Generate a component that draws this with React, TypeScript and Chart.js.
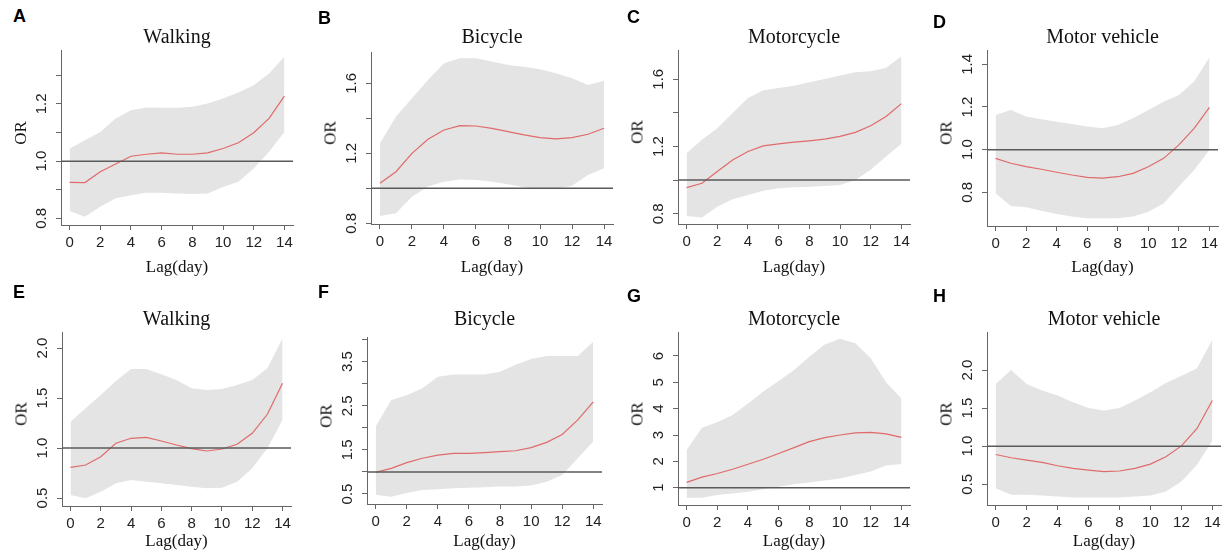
import React, { useEffect, useRef } from "react";
import { Chart, registerables } from "chart.js";
Chart.register(...registerables);

// ---------- data ----------
const LAGS = [0, 1, 2, 3, 4, 5, 6, 7, 8, 9, 10, 11, 12, 13, 14];
const X_TICKS = [0, 2, 4, 6, 8, 10, 12, 14];
const X_MIN = -0.56;
const X_MAX = 14.56;
const REF_OR = 1;

const TITLES = ["Walking", "Bicycle", "Motorcycle", "Motor vehicle"];
const LETTERS = ["A", "B", "C", "D", "E", "F", "G", "H"];

const A_EST = [0.926, 0.925, 0.963, 0.99, 1.017, 1.024, 1.029, 1.024, 1.024, 1.029, 1.044, 1.064, 1.099, 1.149, 1.227];
const A_LO = [0.826, 0.806, 0.841, 0.87, 0.881, 0.89, 0.89, 0.887, 0.885, 0.887, 0.91, 0.928, 0.974, 1.033, 1.102];
const A_HI = [1.044, 1.073, 1.102, 1.149, 1.178, 1.187, 1.186, 1.186, 1.19, 1.201, 1.219, 1.24, 1.265, 1.306, 1.364];

const B_EST = [1.029, 1.095, 1.2, 1.28, 1.333, 1.358, 1.356, 1.343, 1.324, 1.305, 1.29, 1.282, 1.29, 1.309, 1.343];
const B_LO = [0.842, 0.857, 0.952, 1.01, 1.038, 1.051, 1.048, 1.038, 1.023, 1.006, 0.996, 0.996, 1.015, 1.076, 1.114];
const B_HI = [1.257, 1.41, 1.514, 1.619, 1.714, 1.743, 1.743, 1.724, 1.705, 1.695, 1.68, 1.657, 1.629, 1.59, 1.615];

const C_EST = [0.955, 0.981, 1.051, 1.12, 1.17, 1.204, 1.216, 1.226, 1.234, 1.244, 1.26, 1.284, 1.323, 1.379, 1.455];
const C_LO = [0.786, 0.778, 0.842, 0.886, 0.911, 0.937, 0.951, 0.957, 0.961, 0.965, 0.971, 1.001, 1.061, 1.14, 1.216];
const C_HI = [1.16, 1.24, 1.309, 1.399, 1.489, 1.534, 1.548, 1.562, 1.582, 1.602, 1.622, 1.642, 1.648, 1.668, 1.737];

const D_EST = [0.959, 0.936, 0.92, 0.908, 0.894, 0.881, 0.87, 0.866, 0.873, 0.889, 0.92, 0.959, 1.022, 1.1, 1.198];
const D_LO = [0.795, 0.736, 0.73, 0.714, 0.698, 0.686, 0.678, 0.678, 0.678, 0.686, 0.709, 0.748, 0.827, 0.905, 0.998];
const D_HI = [1.162, 1.186, 1.155, 1.142, 1.131, 1.12, 1.108, 1.1, 1.116, 1.147, 1.186, 1.225, 1.256, 1.319, 1.433];

const E_EST = [0.807, 0.83, 0.913, 1.047, 1.097, 1.107, 1.07, 1.03, 0.993, 0.97, 0.99, 1.037, 1.147, 1.337, 1.647];
const E_LO = [0.53, 0.497, 0.563, 0.647, 0.68, 0.663, 0.647, 0.63, 0.613, 0.597, 0.603, 0.663, 0.797, 0.997, 1.28];
const E_HI = [1.263, 1.397, 1.53, 1.67, 1.79, 1.79, 1.737, 1.68, 1.597, 1.58, 1.59, 1.63, 1.68, 1.797, 2.097];

const F_EST = [0.99, 1.08, 1.21, 1.31, 1.38, 1.42, 1.42, 1.44, 1.46, 1.48, 1.55, 1.67, 1.85, 2.18, 2.59];
const F_LO = [0.48, 0.44, 0.52, 0.59, 0.61, 0.63, 0.64, 0.65, 0.67, 0.67, 0.69, 0.78, 0.93, 1.31, 1.69];
const F_HI = [2.03, 2.63, 2.74, 2.9, 3.16, 3.21, 3.21, 3.21, 3.27, 3.43, 3.56, 3.63, 3.63, 3.63, 3.95];

const G_EST = [1.2, 1.4, 1.54, 1.7, 1.89, 2.08, 2.3, 2.52, 2.75, 2.9, 3.0, 3.08, 3.1, 3.04, 2.91];
const G_LO = [0.62, 0.62, 0.72, 0.78, 0.85, 0.94, 1.04, 1.13, 1.2, 1.27, 1.35, 1.48, 1.61, 1.84, 1.9];
const G_HI = [2.43, 3.28, 3.48, 3.76, 4.2, 4.65, 5.05, 5.47, 5.97, 6.44, 6.65, 6.48, 5.91, 5.0, 4.39];

const H_EST = [0.891, 0.848, 0.817, 0.787, 0.743, 0.709, 0.687, 0.665, 0.674, 0.709, 0.765, 0.861, 1.004, 1.23, 1.6];
const H_LO = [0.448, 0.361, 0.361, 0.352, 0.339, 0.326, 0.326, 0.326, 0.326, 0.339, 0.352, 0.404, 0.535, 0.752, 1.07];
const H_HI = [1.817, 2.0, 1.817, 1.73, 1.665, 1.578, 1.5, 1.47, 1.5, 1.6, 1.709, 1.83, 1.926, 2.02, 2.396];

const A_YTICKS = [0.8, 0.9, 1.0, 1.1, 1.2, 1.3];
const A_YLABELS = [0.8, 1.0, 1.2];
const B_YTICKS = [0.8, 1.0, 1.2, 1.4, 1.6];
const B_YLABELS = [0.8, 1.2, 1.6];
const C_YTICKS = [0.8, 1.0, 1.2, 1.4, 1.6];
const C_YLABELS = [0.8, 1.2, 1.6];
const D_YTICKS = [0.8, 1.0, 1.2, 1.4];
const D_YLABELS = [0.8, 1.0, 1.2, 1.4];
const E_YTICKS = [0.5, 1.0, 1.5, 2.0];
const E_YLABELS = [0.5, 1.0, 1.5, 2.0];
const F_YTICKS = [0.5, 1.0, 1.5, 2.0, 2.5, 3.0, 3.5, 4.0];
const F_YLABELS = [0.5, 1.5, 2.5, 3.5];
const G_YTICKS = [1, 2, 3, 4, 5, 6];
const G_YLABELS = [1, 2, 3, 4, 5, 6];
const H_YTICKS = [0.5, 1.0, 1.5, 2.0];
const H_YLABELS = [0.5, 1.0, 1.5, 2.0];

// ---------- layout / style ----------
type Panel = {
  est: number[]; lo: number[]; hi: number[];
  yMin: number; yMax: number; yTicks: number[]; yLabels: number[]; dec: number;
  L: number; T: number; R: number; B: number; row: number; col: number;
  letterX: number; letterBase: number;
};

const PANELS: Panel[] = [
  { est: A_EST, lo: A_LO, hi: A_HI, yMin: 0.777, yMax: 1.388, yTicks: A_YTICKS, yLabels: A_YLABELS, dec: 1, L: 61, T: 50, R: 293, B: 225, row: 0, col: 0, letterX: 13, letterBase: 22 },
  { est: B_EST, lo: B_LO, hi: B_HI, yMin: 0.796, yMax: 1.779, yTicks: B_YTICKS, yLabels: B_YLABELS, dec: 1, L: 371, T: 52, R: 613, B: 224, row: 0, col: 1, letterX: 318, letterBase: 24 },
  { est: C_EST, lo: C_LO, hi: C_HI, yMin: 0.739, yMax: 1.774, yTicks: C_YTICKS, yLabels: C_YLABELS, dec: 1, L: 678, T: 50, R: 910, B: 224, row: 0, col: 2, letterX: 627, letterBase: 23 },
  { est: D_EST, lo: D_LO, hi: D_HI, yMin: 0.642, yMax: 1.467, yTicks: D_YTICKS, yLabels: D_YLABELS, dec: 1, L: 987, T: 50, R: 1218, B: 226, row: 0, col: 3, letterX: 933, letterBase: 28 },
  { est: E_EST, lo: E_LO, hi: E_HI, yMin: 0.42, yMax: 2.16, yTicks: E_YTICKS, yLabels: E_YLABELS, dec: 1, L: 62, T: 332, R: 291, B: 506, row: 1, col: 0, letterX: 13, letterBase: 298 },
  { est: F_EST, lo: F_LO, hi: F_HI, yMin: 0.273, yMax: 4.06, yTicks: F_YTICKS, yLabels: F_YLABELS, dec: 1, L: 367, T: 337, R: 602, B: 504, row: 1, col: 1, letterX: 318, letterBase: 298 },
  { est: G_EST, lo: G_LO, hi: G_HI, yMin: 0.343, yMax: 6.91, yTicks: G_YTICKS, yLabels: G_YLABELS, dec: 0, L: 678, T: 332, R: 910, B: 505, row: 1, col: 2, letterX: 627, letterBase: 302 },
  { est: H_EST, lo: H_LO, hi: H_HI, yMin: 0.228, yMax: 2.499, yTicks: H_YTICKS, yLabels: H_YLABELS, dec: 1, L: 987, T: 332, R: 1221, B: 505, row: 1, col: 3, letterX: 933, letterBase: 302 },
];

const YAXIS_W = 62;
const PAD_T = 4;
const PAD_R = 6;
const XAXIS_H = 34;

const ROW_TITLE_BASE = [43, 324.5];
const ROW_XLAB_BASE = [272, 546];

const BAND = "#e4e4e4";
const RED = "#e06a6a";
const REF_COLOR = "#5a5a5a";
const AXIS_COLOR = "#666";
const SANS = '"Liberation Sans", Arial, sans-serif';
const SERIF = '"Liberation Serif", "Times New Roman", serif';

function makeYLabelPlugin(p: Panel) {
  return {
    id: "yRotLabels",
    afterDraw(chart: any) {
      const { ctx, chartArea } = chart;
      const ys = chart.scales.y;
      ctx.save();
      ctx.font = `15px ${SANS}`;
      ctx.fillStyle = "#222";
      ctx.textAlign = "center";
      ctx.textBaseline = "middle";
      for (const v of p.yLabels) {
        const py = ys.getPixelForValue(v);
        ctx.save();
        ctx.translate(chartArea.left - 19.5, py);
        ctx.rotate(-Math.PI / 2);
        ctx.fillText(v.toFixed(p.dec), 0, 0);
        ctx.restore();
      }
      ctx.restore();
    },
  };
}

function PanelChart({ p }: { p: Panel }) {
  const ref = useRef<HTMLCanvasElement | null>(null);
  const cw = p.R - p.L + YAXIS_W + PAD_R;
  const ch = p.B - p.T + PAD_T + XAXIS_H;
  useEffect(() => {
    if (!ref.current) return;
    const chart = new Chart(ref.current, {
      type: "line",
      data: {
        datasets: [
          {
            data: LAGS.map((x, i) => ({ x, y: p.hi[i] })),
            fill: "+1",
            backgroundColor: BAND,
            borderColor: "rgba(0,0,0,0)",
            borderWidth: 0,
            pointRadius: 0,
            tension: 0,
            order: 3,
          },
          {
            data: LAGS.map((x, i) => ({ x, y: p.lo[i] })),
            fill: false,
            borderColor: "rgba(0,0,0,0)",
            borderWidth: 0,
            pointRadius: 0,
            tension: 0,
            order: 2,
          },
          {
            data: LAGS.map((x, i) => ({ x, y: p.est[i] })),
            fill: false,
            borderColor: RED,
            borderWidth: 1.2,
            pointRadius: 0,
            tension: 0,
            order: 1,
          },
          {
            data: [
              { x: X_MIN, y: REF_OR },
              { x: X_MAX, y: REF_OR },
            ],
            fill: false,
            borderColor: REF_COLOR,
            borderWidth: 1.5,
            pointRadius: 0,
            order: 0,
          },
        ],
      },
      options: {
        animation: false,
        responsive: false,
        devicePixelRatio: 1,
        events: [],
        layout: { padding: { left: 0, top: PAD_T, right: PAD_R, bottom: 0 } },
        plugins: {
          legend: { display: false },
          tooltip: { enabled: false },
          title: { display: false },
        },
        scales: {
          x: {
            type: "linear",
            min: X_MIN,
            max: X_MAX,
            afterBuildTicks: (s: any) => {
              s.ticks = X_TICKS.map((v) => ({ value: v }));
            },
            afterFit: (s: any) => {
              s.height = XAXIS_H;
              s.paddingLeft = 0;
              s.paddingRight = 0;
            },
            grid: { drawOnChartArea: false, drawTicks: true, tickLength: 5, color: AXIS_COLOR, lineWidth: 1 },
            border: { display: true, color: AXIS_COLOR, width: 1 },
            ticks: {
              autoSkip: false,
              maxRotation: 0,
              minRotation: 0,
              padding: 4,
              color: "#222",
              font: { family: SANS, size: 15 },
              callback: (v: any) => String(v),
            },
          },
          y: {
            type: "linear",
            min: p.yMin,
            max: p.yMax,
            afterBuildTicks: (s: any) => {
              s.ticks = p.yTicks.map((v) => ({ value: v }));
            },
            afterFit: (s: any) => {
              s.width = YAXIS_W;
              s.paddingTop = 0;
              s.paddingBottom = 0;
            },
            grid: { drawOnChartArea: false, drawTicks: true, tickLength: 5, color: AXIS_COLOR, lineWidth: 1 },
            border: { display: true, color: AXIS_COLOR, width: 1 },
            ticks: { display: false },
          },
        },
      },
      plugins: [makeYLabelPlugin(p)],
    } as any);
    return () => chart.destroy();
  }, [p]);
  return (
    <canvas
      ref={ref}
      width={cw}
      height={ch}
      style={{
        position: "absolute",
        left: p.L - YAXIS_W,
        top: p.T - PAD_T,
        width: cw,
        height: ch,
      }}
    />
  );
}

function PanelTexts({ p, idx }: { p: Panel; idx: number }) {
  const cx = (p.L + p.R) / 2;
  const cy = (p.T + p.B) / 2 - 5;
  const titleFs = 20;
  const labFs = 17;
  const letFs = 18;
  return (
    <>
      <div
        style={{
          position: "absolute",
          left: p.letterX,
          top: p.letterBase - 0.8465 * letFs,
          font: `bold ${letFs}px ${SANS}`,
          lineHeight: `${letFs}px`,
          color: "#000",
        }}
      >
        {LETTERS[idx]}
      </div>
      <div
        style={{
          position: "absolute",
          left: cx,
          top: ROW_TITLE_BASE[p.row] - 0.8375 * titleFs,
          transform: "translateX(-50%)",
          whiteSpace: "nowrap",
          font: `${titleFs}px ${SERIF}`,
          lineHeight: `${titleFs}px`,
          color: "#111",
        }}
      >
        {TITLES[p.col]}
      </div>
      <div
        style={{
          position: "absolute",
          left: cx,
          top: ROW_XLAB_BASE[p.row] - 0.8375 * labFs,
          transform: "translateX(-50%)",
          whiteSpace: "nowrap",
          font: `${labFs}px ${SERIF}`,
          lineHeight: `${labFs}px`,
          color: "#111",
        }}
      >
        Lag(day)
      </div>
      <div
        style={{
          position: "absolute",
          left: p.L - 41,
          top: cy,
          transform: "translate(-50%, -50%) rotate(-90deg)",
          whiteSpace: "nowrap",
          font: `${labFs}px ${SERIF}`,
          lineHeight: `${labFs}px`,
          color: "#111",
        }}
      >
        OR
      </div>
    </>
  );
}

export default function App() {
  return (
    <div
      style={{
        position: "absolute",
        left: 0,
        top: 0,
        width: 1223,
        height: 554,
        overflow: "hidden",
        background: "#fff",
      }}
    >
      {PANELS.map((p, i) => (
        <React.Fragment key={i}>
          <PanelChart p={p} />
          <PanelTexts p={p} idx={i} />
        </React.Fragment>
      ))}
    </div>
  );
}
